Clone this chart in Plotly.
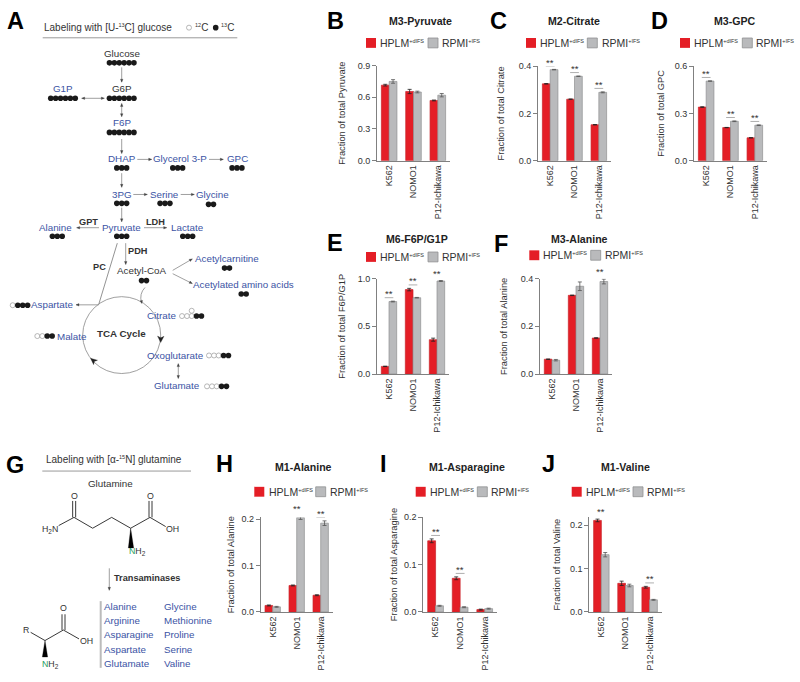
import math
import plotly.graph_objects as go

W, H = 800, 682
FONT = "Liberation Sans"
RED, GREY, GREY_EDGE = "#E41E26", "#B9BABC", "#8F9092"
BLUE, DARK, AXIS = "#3B53A4", "#333333", "#808080"

CELL_LINES = ["K562", "NOMO1", "P12-Ichikawa"]
CELL_IDX = [0, 1, 2]

PYR_H, PYR_H_ERR = [0.715, 0.655, 0.57], [0.008, 0.02, 0.004]
PYR_R, PYR_R_ERR = [0.75, 0.65, 0.62], [0.017, 0.008, 0.016]
CIT_H, CIT_H_ERR = [0.325, 0.26, 0.152], [0.001, 0.001, 0.001]
CIT_R, CIT_R_ERR = [0.385, 0.357, 0.289], [0.001, 0.001, 0.002]
GPC_H, GPC_H_ERR = [0.34, 0.21, 0.145], [0.002, 0.001, 0.001]
GPC_R, GPC_R_ERR = [0.505, 0.25, 0.225], [0.001, 0.002, 0.002]
F6P_H, F6P_H_ERR = [0.08, 0.885, 0.36], [0.002, 0.013, 0.016]
F6P_R, F6P_R_ERR = [0.76, 0.80, 0.975], [0.004, 0.003, 0.005]
ALA3_H, ALA3_H_ERR = [0.062, 0.33, 0.151], [0.001, 0.001, 0.001]
ALA3_R, ALA3_R_ERR = [0.058, 0.368, 0.388], [0.003, 0.018, 0.01]
ALA1_H, ALA1_H_ERR = [0.014, 0.057, 0.036], [0.001, 0.001, 0.001]
ALA1_R, ALA1_R_ERR = [0.011, 0.203, 0.191], [0.001, 0.004, 0.005]
ASN_H, ASN_H_ERR = [0.15, 0.071, 0.005], [0.004, 0.003, 0.001]
ASN_R, ASN_R_ERR = [0.013, 0.01, 0.007], [0.001, 0.001, 0.001]
VAL_H, VAL_H_ERR = [0.211, 0.066, 0.057], [0.003, 0.005, 0.002]
VAL_R, VAL_R_ERR = [0.132, 0.061, 0.028], [0.005, 0.003, 0.001]

PANELS = [
    ("M3-Pyruvate", "Fraction of total Pyruvate", PYR_H, PYR_H_ERR, PYR_R, PYR_R_ERR, [0, 0, 0],
     [0, 0.3, 0.6, 0.9], 0.9, 377, 450, 61.5, 158, 420, 16, 9),
    ("M2-Citrate", "Fraction of total Citrate", CIT_H, CIT_H_ERR, CIT_R, CIT_R_ERR, [1, 1, 1],
     [0, 0.2, 0.4], 0.4, 538, 611, 62, 158, 574, 16, 11),
    ("M3-GPC", "Fraction of total GPC", GPC_H, GPC_H_ERR, GPC_R, GPC_R_ERR, [1, 1, 1],
     [0, 0.3, 0.6], 0.6, 694, 767, 62, 158, 735, 16, 7),
    ("M6-F6P/G1P", "Fraction of total F6P/G1P", F6P_H, F6P_H_ERR, F6P_R, F6P_R_ERR, [1, 1, 1],
     [0, 0.5, 1.0], 1.0, 377, 449, 277.7, 374.5, 417, 237, 9),
    ("M3-Alanine", "Fraction of total Alanine", ALA3_H, ALA3_H_ERR, ALA3_R, ALA3_R_ERR, [0, 0, 1],
     [0, 0.2, 0.4], 0.4, 540, 612, 277.7, 374.5, 579, 237, 10),
    ("M1-Alanine", "Fraction of total Alanine", ALA1_H, ALA1_H_ERR, ALA1_R, ALA1_R_ERR, [0, 1, 1],
     [0, 0.1, 0.2], 0.2035, 260.7, 332.7, 520, 616, 303, 469, 4),
    ("M1-Asparagine", "Fraction of total Asparagine", ASN_H, ASN_H_ERR, ASN_R, ASN_R_ERR, [1, 1, 0],
     [0, 0.1, 0.2], 0.2, 423.3, 497, 519.7, 616, 466.7, 469, 3),
    ("M1-Valine", "Fraction of total Valine", VAL_H, VAL_H_ERR, VAL_R, VAL_R_ERR, [1, 0, 1],
     [0, 0.1, 0.2], 0.218, 589.3, 661.7, 520, 616, 625, 469, 6),
]

PANEL_LETTERS = [("A", 15, 16), ("B", 335, 16), ("C", 498, 16), ("D", 659, 16), ("E", 335, 242),
                 ("F", 501, 243), ("G", 15, 467), ("H", 224, 466), ("I", 383, 466), ("J", 548, 466)]

fig = go.Figure()
layout = dict(
    width=W, height=H, margin=dict(l=0, r=0, t=0, b=0), paper_bgcolor="white", plot_bgcolor="rgba(0,0,0,0)",
    showlegend=False, font=dict(family=FONT, color=DARK), hovermode=False,
    xaxis20=dict(domain=[0, 1], range=[0, W], visible=False, fixedrange=True, anchor="y20"),
    yaxis20=dict(domain=[0, 1], range=[H, 0], visible=False, fixedrange=True, anchor="x20"),
)
annotations, shapes = [], []


def text(x, y, s, size=9.8, color=DARK, bold=False, anchor="center"):
    annotations.append(dict(
        x=x, y=y, xref="x20", yref="y20", text=f"<b>{s}</b>" if bold else s, showarrow=False,
        xanchor=anchor, yanchor="middle", font=dict(size=size, color=color, family=FONT),
        borderpad=0, borderwidth=0))


def sup(s, size=5.5):
    return f"<sup><span style='font-size:{size}px'>{s}</span></sup>"


def sub(s, size=6.5):
    return f"<sub><span style='font-size:{size}px'>{s}</span></sub>"


def seg(x0, y0, x1, y1, color="#555555", width=0.9):
    shapes.append(dict(type="line", x0=x0, y0=y0, x1=x1, y1=y1, xref="x20", yref="y20",
                       line=dict(color=color, width=width)))


def poly(pts, color="black"):
    d = "M " + " L ".join(f"{x:.2f} {y:.2f}" for x, y in pts) + " Z"
    shapes.append(dict(type="path", path=d, xref="x20", yref="y20", fillcolor=color,
                       line=dict(color=color, width=0.3)))


def head(x, y, ux, uy, L=3.0, w=1.3):
    poly([(x, y), (x - ux * L - uy * w, y - uy * L + ux * w), (x - ux * L + uy * w, y - uy * L - ux * w)], "#444444")


def arrow(x0, y0, x1, y1, both=False):
    d = math.hypot(x1 - x0, y1 - y0)
    ux, uy = (x1 - x0) / d, (y1 - y0) / d
    seg(x0, y0, x1, y1, "#777777", 0.7)
    head(x1, y1, ux, uy)
    if both:
        head(x0, y0, -ux, -uy)


dots_x, dots_y, odots_x, odots_y = [], [], [], []


def dots(cx, y, n, step=4.9):
    for i in range(n):
        dots_x.append(cx + (i - (n - 1) / 2) * step)
        dots_y.append(y)


def odots(xs, y):
    for x in xs:
        odots_x.append(x)
        odots_y.append(y)


# ---------- bar panels ----------
for i, (title, ytitle, h, he, r, re, sig, ticks, ymax, xl, xr, yt, y0, tx, ty, gap) in enumerate(PANELS):
    n = i + 1
    xa, ya = f"x{n}", f"y{n}"
    layout[f"xaxis{n}"] = dict(
        domain=[xl / W, xr / W], range=[-0.5, 2.5], anchor=ya, tickmode="array", tickvals=CELL_IDX,
        ticktext=CELL_LINES, tickangle=-90, showline=True, linecolor=AXIS, linewidth=1, ticks="",
        tickfont=dict(size=9, color=DARK, family=FONT), showgrid=False, zeroline=False, fixedrange=True)
    layout[f"yaxis{n}"] = dict(
        domain=[1 - y0 / H, 1 - yt / H], range=[0, ymax], anchor=xa, tickmode="array", tickvals=ticks,
        ticktext=[f"{v:.1f}" for v in ticks], showline=True, linecolor=AXIS, linewidth=1, ticks="outside",
        ticklen=4, tickwidth=1, tickcolor=AXIS, tickfont=dict(size=9, color=DARK, family=FONT),
        showgrid=False, zeroline=False, fixedrange=True,
        title=dict(text=ytitle, font=dict(size=9.3, color=DARK, family=FONT), standoff=gap + 1))
    for vals, errs, col, edge, ecol, off in ((h, he, RED, "#C9252B", "#222222", -0.32),
                                             (r, re, GREY, GREY_EDGE, "#555555", 0.0)):
        fig.add_trace(go.Bar(
            x=CELL_IDX, y=vals, width=0.32, offset=off, xaxis=xa, yaxis=ya,
            marker=dict(color=col, line=dict(color=edge, width=0.7)),
            error_y=dict(type="data", array=errs, visible=True, color=ecol, thickness=0.8, width=2)))
    per_px = ymax / (y0 - yt)
    for k, s in enumerate(sig):
        if not s:
            continue
        top = max(h[k] + he[k], r[k] + re[k]) + 3.5 * per_px
        fig.add_trace(go.Scatter(x=[k - 0.18, k + 0.18], y=[top, top], xaxis=xa, yaxis=ya, mode="lines",
                                 line=dict(color="#9a9a9a", width=0.8), cliponaxis=False))
        # stars sit in the page-wide layer, so they survive above the axis range
        text(xl + (k + 0.5) * (xr - xl) / 3, y0 - top / per_px - 4, "**", size=9.5)
    text(tx, ty, title, size=10.6, color="#222222", bold=True)

LEGENDS = [(366, 380, 428, 441.7, 38.5), (526, 540, 587.3, 601.7, 38.5), (680, 694, 742.3, 755.7, 38.5),
           (366, 380, 428, 441.7, 255.7), (529.3, 543, 590.7, 605, 254),
           (254.3, 268.7, 315.7, 330, 494), (415.7, 430, 477.3, 490.7, 494), (571.7, 585.7, 633, 647.3, 494)]
for rx, rt, gx, gt, cy in LEGENDS:
    shapes.append(dict(type="rect", x0=rx, x1=rx + 10, y0=cy - 5, y1=cy + 5, xref="x20", yref="y20",
                       fillcolor=RED, line=dict(color=RED, width=0)))
    shapes.append(dict(type="rect", x0=gx, x1=gx + 10, y0=cy - 5, y1=cy + 5, xref="x20", yref="y20",
                       fillcolor=GREY, line=dict(color=GREY_EDGE, width=0.8)))
    text(rt, cy, "HPLM" + sup("+dIFS"), size=10.5, anchor="left")
    text(gt, cy, "RPMI" + sup("+IFS"), size=10.5, anchor="left")

for s, x, y in PANEL_LETTERS:
    text(x, y, s, size=23.5, color="black", bold=True)

# ---------- panel A ----------
text(44.3, 23, "Labeling with [U-" + sup("13") + "C] glucose", size=10, anchor="left")
text(195, 23, sup("12") + "C", size=10, anchor="left")
text(221.3, 23, sup("13") + "C", size=10, anchor="left")
seg(42.7, 33.3, 237.3, 33.3, "#999999", 1)

NODES = [
    ("Glucose", 121.7, 49.3, DARK), ("G6P", 121.7, 85, DARK), ("G1P", 63.3, 85, BLUE), ("F6P", 121.7, 119.3, BLUE),
    ("DHAP", 121.7, 156, BLUE), ("Glycerol 3-P", 180, 156, BLUE), ("GPC", 237, 156, BLUE),
    ("3PG", 121.7, 192.3, BLUE), ("Serine", 164, 192.3, BLUE), ("Glycine", 212.7, 192.3, BLUE),
    ("Pyruvate", 121.7, 226, BLUE), ("Alanine", 55.7, 226, BLUE), ("Lactate", 187.3, 226, BLUE),
    ("Acetyl-CoA", 141, 269.7, DARK), ("Acetylcarnitine", 227, 257, BLUE), ("Acetylated amino acids", 243.3, 284, BLUE),
    ("Aspartate", 52.3, 304.3, BLUE), ("Citrate", 161.3, 315.3, BLUE), ("Malate", 72.3, 336, BLUE),
    ("Oxoglutarate", 175, 355.3, BLUE), ("Glutamate", 177.3, 386.3, BLUE),
]
for s, x, y, c in NODES:
    text(x, y, s, color=c)
for s, x, y in [("GPT", 88.3, 220), ("LDH", 155.7, 220), ("PDH", 137.7, 250), ("PC", 99.3, 266), ("TCA Cycle", 121.7, 333.7)]:
    text(x, y, s, size=9.2 if s != "TCA Cycle" else 9.8, bold=True)

for cx, y, n in [(121.7, 58.7, 6), (121.7, 94.7, 6), (63, 94.7, 6), (121.7, 129.3, 6), (121.7, 165.3, 3), (177.7, 165.3, 3),
                 (237, 165.3, 3), (121.7, 201.3, 3), (165, 201.3, 3), (211, 202.3, 2), (121.7, 234.7, 3),
                 (57.3, 234.7, 3), (187.7, 234.7, 3), (144, 279.7, 2), (227, 267, 2), (243.7, 293.3, 2),
                 (22.7, 304.7, 3), (199, 315.7, 2), (49.7, 336, 2), (226, 355.7, 2), (224, 387, 2)]:
    dots(cx, y, n)
dots(215.7, 23, 1)
odots([189], 23)
odots([12.7], 304.7)
odots([182, 187, 191.7], 315.7)
odots([191.7], 310.3)
odots([37.3, 42.3], 336)
odots([209, 214, 218.7], 355.7)
odots([207, 212, 216.7], 387)

for a in [(121.7, 63.3, 121.7, 78.3), (121.7, 136, 121.7, 150.7), (137.3, 156.7, 151.7, 156.7), (209, 156.7, 223.3, 156.7),
          (121.7, 170.7, 121.7, 185), (133.3, 192.3, 147.3, 192.3), (180.7, 192.3, 194.3, 192.3), (121.7, 205.7, 121.7, 220),
          (99, 226, 76.7, 226), (144, 226, 166.7, 226), (125.7, 241.7, 125.7, 263.3),
          (172.7, 269.3, 192.3, 257.7), (172.7, 272.7, 192.3, 282.7), (98.7, 304.3, 76, 304.3)]:
    arrow(*a)
for a in [(81.7, 94.7, 104.3, 94.7), (121.7, 100, 121.7, 113.3), (178.3, 364, 178.3, 379)]:
    arrow(*a, both=True)
seg(117.3, 241.7, 98.7, 304, "#777777", 0.8)
shapes.append(dict(type="circle", x0=82.7, x1=160.7, y0=296, y1=374, xref="x20", yref="y20",
                   line=dict(color="#888888", width=0.8)))
shapes.append(dict(type="path", path="M 145 286.7 Q 139 293 141.5 302", xref="x20", yref="y20",
                   line=dict(color="#777777", width=0.7)))
head(141.8, 303, 0.15, 0.98)
poly([(160.7, 342.5), (157.5, 336), (160.7, 337.8), (164, 336.2)], "#222222")
poly([(90.5, 358.5), (97.5, 360.5), (94.3, 361.8), (93.6, 365)], "#222222")

# ---------- panel G ----------
text(46, 461, "Labeling with [α-" + sup("15") + "N] glutamine", size=10, anchor="left")
seg(42.3, 473, 191, 473, "#999999", 1)
text(110.7, 485.7, "Glutamine")
Z = lambda zx, zy: (zx / 3, zy / 3 + 450)
BONDS = [(176, 235, 222, 210), (222, 210, 278, 243), (278, 243, 335, 210), (335, 210, 392, 243), (392, 243, 450, 210),
         (450, 210, 497, 238), (218, 210, 218, 160), (227, 210, 227, 160), (447, 210, 447, 160), (456, 210, 456, 160),
         (92, 560, 135, 585), (135, 585, 190, 553), (190, 553, 237, 580), (186, 553, 186, 505), (195, 553, 195, 505)]
for a, b, c, d in BONDS:
    seg(*Z(a, b), *Z(c, d), "#222222", 0.9)
poly([Z(392, 243), Z(385, 303), Z(401, 303)], "black")
poly([Z(135, 585), Z(127, 635), Z(143, 635)], "black")
NGREEN = "<span style='color:#1E9E5E'>N</span>"
SF = 8.8
for s, zx, zy in [("O", 222, 145), ("O", 452, 145), ("H" + sub("2") + "N", 150, 246), ("OH", 518, 245),
                  (NGREEN + "H" + sub("2"), 412, 315), ("R", 78, 553), ("O", 190, 485), ("OH", 260, 587),
                  (NGREEN + "H" + sub("2"), 150, 657)]:
    x, y = Z(zx, zy)
    text(x, y, s, size=SF)
arrow(109.3, 571.7, 109.3, 594)
text(114.3, 581.3, "Transaminases", size=9.2, bold=True, anchor="left")
seg(100.7, 605, 100.7, 672.7, "#BBBBBB", 2)
AMINO_LEFT = ["Alanine", "Arginine", "Asparagine", "Aspartate", "Glutamate"]
AMINO_RIGHT = ["Glycine", "Methionine", "Proline", "Serine", "Valine"]
ROW_Y = [610, 624.7, 639.3, 654, 668.7]
for s, y in zip(AMINO_LEFT, ROW_Y):
    text(104.3, y, s, color=BLUE, anchor="left")
for s, y in zip(AMINO_RIGHT, ROW_Y):
    text(164.3, y, s, color=BLUE, anchor="left")

fig.add_trace(go.Scatter(x=odots_x, y=odots_y, xaxis="x20", yaxis="y20", mode="markers",
                         marker=dict(size=5, color="white", line=dict(color="#999999", width=0.7))))
fig.add_trace(go.Scatter(x=dots_x, y=dots_y, xaxis="x20", yaxis="y20", mode="markers",
                         marker=dict(size=5.6, color="#1a1a1a", line=dict(width=0))))

fig.update_layout(**layout, annotations=annotations, shapes=shapes)
fig.write_html("out.html", config=dict(displayModeBar=False),
               post_script="document.body.style.margin='0';document.body.style.overflow='hidden';")
